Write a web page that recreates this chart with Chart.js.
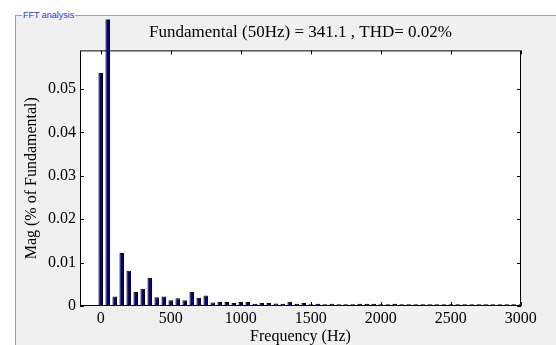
<!DOCTYPE html>
<html>
<head>
<meta charset="utf-8">
<script src="https://cdn.jsdelivr.net/npm/chart.js@4"></script>
<style>
body{margin:0;background:#fff;width:556px;height:345px;overflow:hidden;position:relative}
#panel{position:absolute;left:15px;top:15px;right:0;bottom:0;background:#f0f0f0;border-top:1px solid #a0a0a0;border-left:1px solid #a0a0a0}
#panelTitle{position:absolute;left:22px;top:10px;font:9px "Liberation Sans",Arial,sans-serif;color:#3333dd;line-height:11px;padding:0 1px;background:linear-gradient(#fff 0,#fff 5px,#f0f0f0 5px)}
canvas{position:absolute;left:0;top:0}
</style>
</head>
<body>
<div id="panel"></div>
<div id="panelTitle">FFT analysis</div>
<canvas id="myChart" width="556" height="345"></canvas>
<script>
// harmonic frequencies (Hz) and magnitudes (% of fundamental)
const freqs = [0, 50, 100, 150, 200, 250, 300, 350, 400, 450,
    500, 550, 600, 650, 700, 750, 800, 850, 900, 950,
    1000, 1050, 1100, 1150, 1200, 1250, 1300, 1350, 1400, 1450,
    1500, 1550, 1600, 1650, 1700, 1750, 1800, 1850, 1900, 1950,
    2000, 2050, 2100, 2150, 2200, 2250, 2300, 2350, 2400, 2450,
    2500, 2550, 2600, 2650, 2700, 2750, 2800, 2850, 2900, 2950,
    3000];
const mags = [0.0537, 100, 0.0022, 0.0122, 0.0081, 0.0032, 0.0040, 0.0065, 0.0020, 0.0022,
    0.0013, 0.0018, 0.0013, 0.0032, 0.0019, 0.0024, 0.0008, 0.0009, 0.0009, 0.0007,
    0.0009, 0.0009, 0.0005, 0.0007, 0.0007, 0.0006, 0.0005, 0.0010, 0.0005, 0.0007,
    0.0004, 0.0005, 0.0004, 0.0005, 0.0004, 0.0004, 0.0004, 0.0005, 0.0005, 0.0005,
    0.0004, 0.0004, 0.0005, 0.0004, 0.0004, 0.0004, 0.0004, 0.0004, 0.0004, 0.0004,
    0.0004, 0.0004, 0.0004, 0.0004, 0.0004, 0.0004, 0.0004, 0.0004, 0.0004, 0.0004,
    0.0004];
const xTicks = [0, 500, 1000, 1500, 2000, 2500, 3000];
const yTicks = [0, 0.01, 0.02, 0.03, 0.04, 0.05];
const chartTitle = 'Fundamental (50Hz) = 341.1 , THD= 0.02%';

const serif = {family: '"Liberation Serif", "Times New Roman", serif', size: 16};

// white axes box, black frame and inward ticks like matlab
const axesBox = {
    id: 'axesBox',
    beforeDraw(chart){
        const a = chart.chartArea, ctx = chart.ctx;
        ctx.save();
        ctx.fillStyle = '#fff';
        ctx.fillRect(a.left, a.top, a.right - a.left, a.bottom - a.top);
        ctx.restore();
    },
    beforeDatasetsDraw(chart){
        const a = chart.chartArea, ctx = chart.ctx;
        const x = chart.scales.x, y = chart.scales.y;
        ctx.save();
        ctx.strokeStyle = '#000';
        ctx.lineWidth = 1;
        ctx.strokeRect(a.left + 0.5, a.top + 0.5, a.right - a.left - 1, a.bottom - a.top - 1);
        ctx.beginPath();
        xTicks.forEach(v => {
            const px = Math.round(x.getPixelForValue(v)) + 0.5;
            ctx.moveTo(px, a.bottom); ctx.lineTo(px, a.bottom - 4);
            ctx.moveTo(px, a.top); ctx.lineTo(px, a.top + 4);
        });
        yTicks.forEach(v => {
            const py = Math.round(y.getPixelForValue(v)) + 0.5;
            ctx.moveTo(a.left, py); ctx.lineTo(a.left + 4, py);
            ctx.moveTo(a.right, py); ctx.lineTo(a.right - 4, py);
        });
        ctx.stroke();
        ctx.restore();
    }
};

const ctx = document.getElementById('myChart').getContext('2d');
new Chart(ctx, {
    type: 'bar',
    data: {
        datasets: [{
            data: freqs.map((f, i) => ({x: f, y: mags[i]})),
            backgroundColor: '#000080',
            borderColor: '#000000',
            borderWidth: 1,
            barPercentage: 0.65,
            categoryPercentage: 1,
            clip: {left: 0, top: 31, right: 0, bottom: 0}
        }]
    },
    options: {
        responsive: false,
        animation: false,
        layout: {padding: {left: 20, right: 35, top: 22, bottom: 0}},
        plugins: {
            legend: {display: false},
            tooltip: {enabled: false},
            title: {
                display: true,
                text: chartTitle,
                fullSize: false,
                color: '#000',
                font: {family: serif.family, size: 17, weight: 'normal', lineHeight: 1.2},
                padding: {top: 0, bottom: 8}
            }
        },
        scales: {
            x: {
                type: 'linear',
                offset: false,
                min: -148,
                max: 3002,
                grid: {display: false, drawTicks: false, offset: false},
                border: {display: false},
                ticks: {color: '#000', font: serif, padding: 3, maxRotation: 0, autoSkip: false,
                    callback: v => String(v)},
                afterBuildTicks: s => { s.ticks = xTicks.map(v => ({value: v})); },
                afterFit: s => { s.height = 39; },
                title: {display: true, text: 'Frequency (Hz)', color: '#000',
                    font: {family: serif.family, size: 16, lineHeight: 1}, padding: 0}
            },
            y: {
                min: 0,
                max: 0.0589,
                grid: {display: false, drawTicks: false},
                border: {display: false},
                ticks: {color: '#000', font: serif, padding: 4},
                afterBuildTicks: s => { s.ticks = yTicks.map(v => ({value: v})); },
                afterFit: s => { s.width = 60; },
                title: {display: true, text: 'Mag (% of Fundamental)', color: '#000',
                    font: {family: serif.family, size: 16, lineHeight: 1.2}, padding: {top: 2, bottom: 0}}
            }
        }
    },
    plugins: [axesBox]
});
</script>
</body>
</html>
